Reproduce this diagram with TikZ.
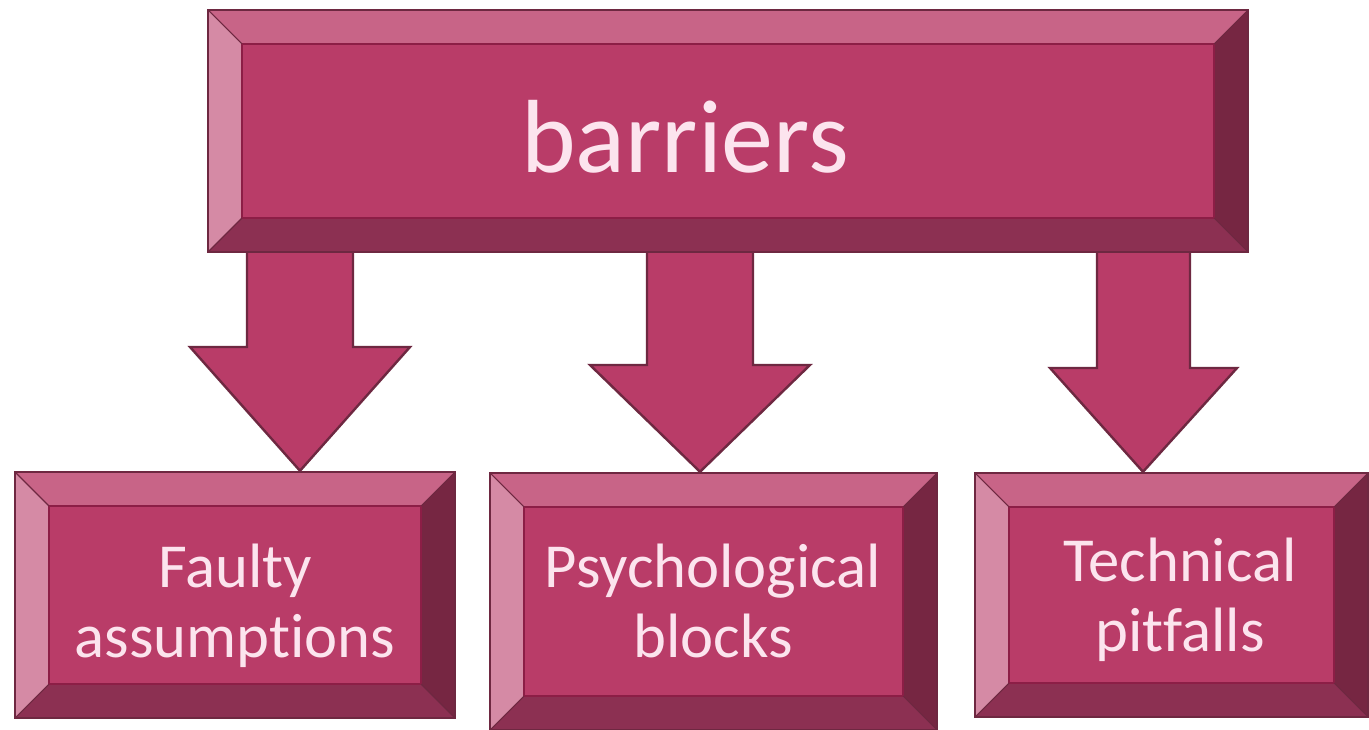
\documentclass[tikz,border=0pt]{standalone}
\usepackage{fontspec}
\newfontfamily\barrierfont[Ligatures=NoCommon]{Carlito}
\usetikzlibrary{calc}
\definecolor{face}{HTML}{B93C68}
\definecolor{bevtop}{HTML}{C86487}
\definecolor{bevleft}{HTML}{D58AA5}
\definecolor{bevbottom}{HTML}{8C3052}
\definecolor{bevright}{HTML}{762642}
\definecolor{rim}{HTML}{6E2841}
\definecolor{seam}{HTML}{8C1E46}
\definecolor{lettering}{HTML}{FCE4EE}
\newcommand{\bev}{25.5pt}

\tikzset{
	bevelbox/.style={draw=rim, line width=1.8pt, fill=face, inner sep=0pt,
		path picture={
			\path (path picture bounding box.north west) coordinate (NW)
				(path picture bounding box.north east) coordinate (NE)
				(path picture bounding box.south east) coordinate (SE)
				(path picture bounding box.south west) coordinate (SW)
				([shift={(\bev,-\bev)}]NW) coordinate (nw)
				([shift={(-\bev,-\bev)}]NE) coordinate (ne)
				([shift={(-\bev,\bev)}]SE) coordinate (se)
				([shift={(\bev,\bev)}]SW) coordinate (sw);
			\fill[bevtop] (NW) -- (NE) -- (ne) -- (nw) -- cycle;
			\fill[bevleft] (NW) -- (nw) -- (sw) -- (SW) -- cycle;
			\fill[bevbottom] (SW) -- (sw) -- (se) -- (SE) -- cycle;
			\fill[bevright] (NE) -- (SE) -- (se) -- (ne) -- cycle;
			\draw[seam, line width=1.5pt] (nw) rectangle (se);
			\draw[rim, line width=0.8pt] (NW) -- (nw) (NE) -- (ne) (SE) -- (se) (SW) -- (sw);
		}},
	blockarrow/.style={fill=face, draw=rim, line width=1.8pt, line join=miter},
	bigtext/.style={text=lettering, inner sep=0pt, font=\barrierfont\fontsize{78}{80}\selectfont},
	boxtext/.style={text=lettering, inner sep=0pt, align=center, font=\barrierfont\fontsize{47}{52.5}\selectfont}
}

\begin{document}
\begin{tikzpicture}[x=0.75pt, y=-0.75pt]
	\useasboundingbox [fill=white] (0,0) rectangle (1369,730);

	\node (top) [bevelbox, minimum width=780pt, minimum height=181.5pt] at (728,131) {};
	\node (faulty) [bevelbox, minimum width=330pt, minimum height=184.5pt] at (235,595) {};
	\node (psych) [bevelbox, minimum width=335.25pt, minimum height=192.75pt] at (713.5,601.5) {};
	\node (techn) [bevelbox, minimum width=294.75pt, minimum height=183pt] at (1171.5,595) {};

	\node (toptext) [bigtext, anchor=base] at (685,173) {barriers};
	\node (faultytext) [boxtext] at (235,606) {Faulty\\assumptions};
	\node (psychtext) [boxtext] at (713,601) {Psychological\\blocks};
	\node (techntext) [boxtext] at (1180,600) {Technical\\pitfalls};

	\filldraw [blockarrow] (247,0 |- top.south) -- (247,347) -- (190,347)
		-- (300,0 |- faulty.north) -- (410,347) -- (353,347) -- (353,0 |- top.south);
	\filldraw [blockarrow] (647,0 |- top.south) -- (647,365) -- (590,365)
		-- (700,0 |- psych.north) -- (810,365) -- (753,365) -- (753,0 |- top.south);
	\filldraw [blockarrow] (1097,0 |- top.south) -- (1097,368) -- (1050,368)
		-- (1143,0 |- techn.north) -- (1237,368) -- (1190,368) -- (1190,0 |- top.south);
\end{tikzpicture}
\end{document}
